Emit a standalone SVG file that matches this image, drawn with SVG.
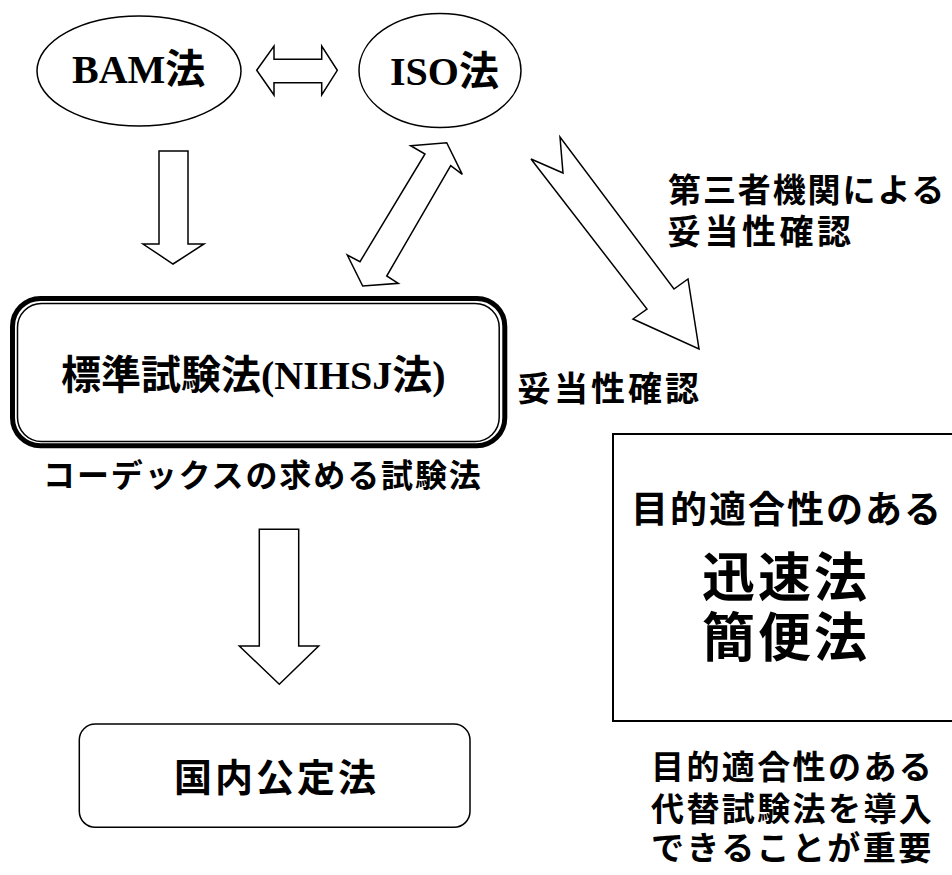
<svg xmlns="http://www.w3.org/2000/svg" width="952" height="875" viewBox="0 0 952 875">
<style>
.shape{fill:#fff;stroke:#000;stroke-width:1.5}
.jp{font-family:"Noto Sans CJK JP","Noto Sans CJK SC",sans-serif;font-weight:bold;fill:#000}
.mix{font-family:"Liberation Serif","Noto Sans CJK JP",serif;font-weight:bold;fill:#000}
</style>
<rect width="952" height="875" fill="#fff"/>
<g id="connectors">
<polygon class="shape" points="256.7,70.3 274,46 274,59.3 321.7,59.3 321.7,46 337.3,70.3 321.7,95 321.7,82.7 274,82.7 274,95"/>
<polygon class="shape" points="159,151 188,151 188,244 204,244 173,264 143,244 159,244"/>
<polygon class="shape" points="410.7,145.7 446.7,142.7 462.3,174.3 450.7,165.7 386.7,276 398.3,283.3 362.7,286 347.3,255 360,261.7 425,154"/>
<polygon class="shape" points="531,159 563,173 560,137 674,289 688,279 699,349 633,319 647,309"/>
<polygon class="shape" points="259.3,529.3 298.7,529.3 298.7,646 318.7,646 279.3,684.3 239.3,646 259.3,646"/>
</g>
<g id="bam">
<ellipse class="shape" cx="139" cy="71" rx="102" ry="55"/>
<text class="mix" x="72" y="83" font-size="40">BAM法</text>
</g>
<g id="iso">
<ellipse class="shape" cx="440" cy="70.5" rx="81" ry="57"/>
<text class="mix" x="390" y="85" font-size="40">ISO法</text>
</g>
<g id="nihsj">
<rect x="12.5" y="298.4" width="492.3" height="147.4" rx="28" fill="#fff" stroke="#000" stroke-width="5"/>
<rect x="17.5" y="303.4" width="481.7" height="138.2" rx="24" fill="none" stroke="#000" stroke-width="1.5"/>
<text class="mix" x="61" y="389" font-size="40">標準試験法(NIHSJ法)</text>
</g>
<g id="codex-label">
<text class="jp" x="43" y="487" font-size="32" letter-spacing="1.9">コーデックスの求める試験法</text>
</g>
<g id="third-party-label">
<text class="jp" x="668" y="202" font-size="33" letter-spacing="1.9">第三者機関による</text>
<text class="jp" x="667" y="244" font-size="34" letter-spacing="3.5">妥当性確認</text>
</g>
<g id="validation-label">
<text class="jp" x="517" y="401" font-size="34" letter-spacing="3">妥当性確認</text>
</g>
<g id="rapid">
<rect x="613" y="434" width="360" height="287" fill="#fff" stroke="#000" stroke-width="2"/>
<text class="jp" x="631" y="523" font-size="37" letter-spacing="2">目的適合性のある</text>
<text class="jp" x="702" y="597" font-size="53" letter-spacing="3">迅速法</text>
<text class="jp" x="702" y="657" font-size="53" letter-spacing="3">簡便法</text>
</g>
<g id="domestic">
<rect class="shape" x="79.3" y="724" width="390.7" height="103.3" rx="16"/>
<text class="jp" x="174" y="791" font-size="38" letter-spacing="3">国内公定法</text>
</g>
<g id="important-label">
<text class="jp" x="651" y="779" font-size="33" letter-spacing="2.4">目的適合性のある</text>
<text class="jp" x="651" y="821" font-size="33" letter-spacing="2.4">代替試験法を導入</text>
<text class="jp" x="651" y="860" font-size="33" letter-spacing="2.4">できることが重要</text>
</g>
</svg>
